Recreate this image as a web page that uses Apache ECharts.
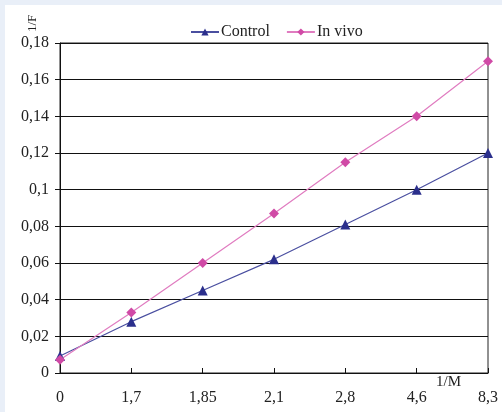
<!DOCTYPE html>
<html><head><meta charset="utf-8">
<script src="https://cdn.jsdelivr.net/npm/echarts@6/dist/echarts.min.js"></script>
<style>html,body{margin:0;padding:0;background:#e9eff8;}#c{width:502px;height:412px;}</style>
</head><body><div id="c"></div>
<script>
var categories = ['0', '1,7', '1,85', '2,1', '2,8', '4,6', '8,3'];
var controlValues = [0.0093, 0.028, 0.045, 0.062, 0.081, 0.100, 0.120];
var inVivoValues = [0.0072, 0.033, 0.060, 0.087, 0.115, 0.140, 0.170];
var seriesNames = ['Control', 'In vivo'];
var xName = '1/M';
var yName = '1/F';

var font = '"Liberation Serif", "DejaVu Serif", serif';
var chart = echarts.init(document.getElementById('c'));
chart.setOption({
  backgroundColor: '#e9eff8',
  animation: false,
  graphic: [
    {type: 'rect', shape: {x: 5, y: 5, width: 497, height: 407}, style: {fill: '#ffffff'}, z: -10},
    {type: 'text', x: 26, y: 32, rotation: Math.PI / 2, style: {text: yName, font: '13px ' + font, fill: '#222'}},
    {type: 'text', x: 436, y: 375, style: {text: xName, font: '15px ' + font, fill: '#222'}}
  ],
  legend: {
    top: 19, left: 185,
    itemWidth: 28, itemHeight: 9, itemGap: 16,
    textStyle: {fontFamily: font, fontSize: 16, color: '#222', padding: [0, 0, 0, -3]},
    data: seriesNames
  },
  grid: {left: 60, right: 14, top: 43, bottom: 39, show: true, borderColor: '#222', borderWidth: 1},
  xAxis: {
    type: 'category', data: categories, boundaryGap: false,
    axisLine: {lineStyle: {color: '#111'}},
    axisTick: {inside: true, length: 5, lineStyle: {color: '#111'}},
    axisLabel: {fontFamily: font, fontSize: 16, color: '#222', margin: 17}
  },
  yAxis: {
    type: 'value', min: 0, max: 0.18, interval: 0.02,
    axisLine: {show: true, lineStyle: {color: '#111'}},
    axisTick: {show: true, length: 5, lineStyle: {color: '#111'}},
    splitLine: {lineStyle: {color: '#111'}},
    axisLabel: {fontFamily: font, fontSize: 16, color: '#222', margin: 11,
      formatter: function (v) { return String(+v.toFixed(2)).replace('.', ','); }}
  },
  series: [
    {name: seriesNames[0], type: 'line', data: controlValues, symbol: 'triangle', symbolSize: 10,
      itemStyle: {color: '#2b2f8c'}, lineStyle: {color: '#4a4fa0', width: 1.2}},
    {name: seriesNames[1], type: 'line', data: inVivoValues, symbol: 'diamond', symbolSize: 10,
      itemStyle: {color: '#d04aa6'}, lineStyle: {color: '#e07cc0', width: 1.2}}
  ]
});
</script></body></html>
